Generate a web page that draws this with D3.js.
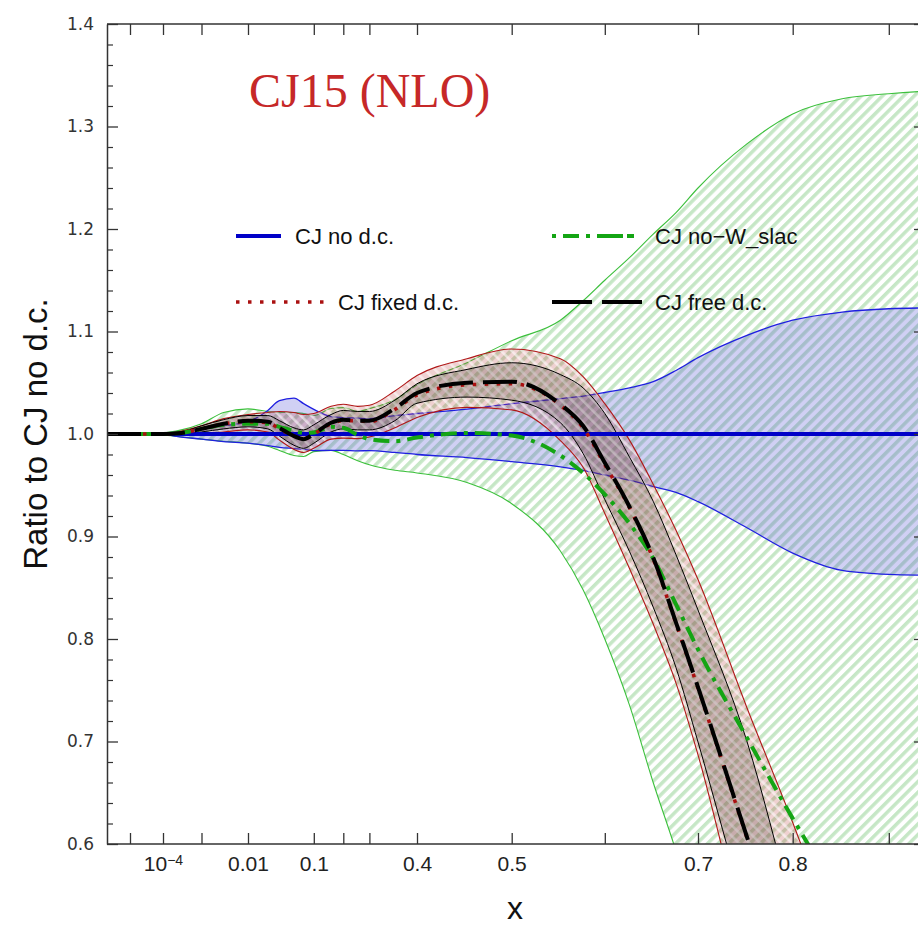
<!DOCTYPE html>
<html>
<head>
<meta charset="utf-8">
<script src="https://cdn.jsdelivr.net/npm/d3@7"></script>
<style>
  body { margin: 0; background: #fff; }
  svg { display: block; }
</style>
</head>
<body>
<div id="chart"></div>
<script>
// x grid of the curves
var xs = [2e-6, 1e-5, 3e-5, 1e-4, 3e-4, 1e-3, 3e-3, 0.01, 0.02, 0.03, 0.05, 0.07, 0.1, 0.15, 0.2, 0.25, 0.3, 0.35,
          0.4, 0.45, 0.5, 0.55, 0.575, 0.6, 0.625, 0.65, 0.675, 0.7, 0.75, 0.8, 0.85, 0.9, 0.95, 1.0];

// CJ no d.c. (reference) and its band
var noDc   = xs.map(function() { return 1.0; });
var noDcHi = [1.000, 1.000, 1.000, 1.001, 1.002, 1.005, 1.008, 1.012, 1.023, 1.0325, 1.035, 1.0296, 1.024, 1.017, 1.016, 1.0155, 1.015,
              1.018, 1.020, 1.0243, 1.0296, 1.0345, 1.037, 1.0405, 1.045, 1.051, 1.062, 1.0745, 1.0963, 1.111, 1.119, 1.1222, 1.1232, 1.1235];
var noDcLo = [1.000, 1.000, 0.9997, 0.9993, 0.997, 0.995, 0.9925, 0.991, 0.9887, 0.987, 0.9858, 0.985, 0.9838, 0.984, 0.984, 0.9835, 0.9838,
              0.982, 0.980, 0.977, 0.973, 0.968, 0.9645, 0.960, 0.955, 0.9487, 0.943, 0.934, 0.9085, 0.8838, 0.8669, 0.863, 0.862, 0.8615];

// CJ no-W_slac
var noW   = [1.0, 1.0, 1.0, 1.0, 1.001, 1.005, 1.009, 1.010, 1.010, 1.007, 1.003, 1.001, 1.0015, 1.007, 1.006, 0.999, 0.995,
             0.993, 0.9965, 1.001, 0.9985, 0.979, 0.962, 0.941, 0.9127, 0.8786, 0.8337, 0.7899, 0.7037, 0.625, 0.545, 0.47, 0.40, 0.35];
var noWHi = [1.000, 1.000, 1.0005, 1.001, 1.004, 1.010, 1.021, 1.0245, 1.022, 1.021, 1.021, 1.020, 1.018, 1.0248, 1.0257, 1.022, 1.0248,
             1.0335, 1.048, 1.0696, 1.091, 1.111, 1.130, 1.150, 1.172, 1.195, 1.216, 1.240, 1.283, 1.3123, 1.327, 1.332, 1.335, 1.336];
var noWLo = [1.000, 1.000, 0.9995, 0.999, 0.997, 0.995, 0.993, 0.991, 0.988, 0.984, 0.979, 0.978, 0.9828, 0.984, 0.980, 0.974, 0.970,
             0.9646, 0.962, 0.9526, 0.932, 0.8858, 0.848, 0.800, 0.7355, 0.660, 0.593, 0.520, 0.38, 0.25, 0.15, 0.10, 0.10, 0.10];

// CJ fixed d.c.
var fixedDc = [1.0, 1.0, 1.0, 1.0, 1.001, 1.005, 1.010, 1.012, 1.011, 1.005, 0.998, 0.995, 1.000, 1.010, 1.013, 1.013, 1.012,
               1.024, 1.038, 1.048, 1.049, 1.028, 1.006, 0.970, 0.928, 0.878, 0.815, 0.752, 0.606, 0.47, 0.33, 0.20, 0.10, 0.05];
var fixedHi = [1.0, 1.0, 1.0, 1.0005, 1.003, 1.008, 1.015, 1.019, 1.021, 1.022, 1.021, 1.019, 1.020, 1.027, 1.029, 1.027, 1.028,
               1.042, 1.057, 1.0735, 1.083, 1.0735, 1.056, 1.0296, 0.994, 0.951, 0.906, 0.858, 0.733, 0.621, 0.49, 0.36, 0.25, 0.15];
var fixedLo = [1.0, 1.0, 1.0, 0.9995, 0.999, 1.000, 1.002, 1.004, 1.002, 0.994, 0.985, 0.982, 0.986, 0.995, 0.996, 0.9955, 0.997,
               1.006, 1.016, 1.026, 1.0235, 0.9936, 0.9675, 0.9225, 0.8687, 0.8146, 0.757, 0.687, 0.50, 0.35, 0.20, 0.10, 0.05, 0.0];

// CJ free d.c.
var freeDc = [1.0, 1.0, 1.0, 1.0, 1.001, 1.005, 1.010, 1.013, 1.012, 1.006, 0.998, 0.995, 1.000, 1.011, 1.014, 1.013, 1.013,
              1.025, 1.040, 1.050, 1.051, 1.029, 1.008, 0.972, 0.929, 0.8795, 0.816, 0.753, 0.607, 0.47, 0.33, 0.20, 0.10, 0.05];
var freeHi = [1.0, 1.0, 1.0, 1.0003, 1.002, 1.008, 1.014, 1.018, 1.018, 1.013, 1.006, 1.004, 1.009, 1.019, 1.023, 1.022, 1.022,
              1.033, 1.049, 1.063, 1.0695, 1.058, 1.045, 1.020, 0.9775, 0.9344, 0.8822, 0.8283, 0.7002, 0.538, 0.37, 0.20, 0.10, 0.05];
var freeLo = [1.0, 1.0, 1.0, 0.9997, 1.000, 1.002, 1.005, 1.007, 1.005, 0.998, 0.989, 0.986, 0.991, 1.002, 1.005, 1.004, 1.004,
              1.013, 1.030, 1.036, 1.033, 1.011, 0.981, 0.936, 0.8854, 0.8311, 0.772, 0.6995, 0.5305, 0.39, 0.20, 0.10, 0.05, 0.0];

// axes
var xTicks = [1e-5, 1e-4, 1e-3, 0.01, 0.1, 0.2, 0.3, 0.4, 0.5, 0.6, 0.7, 0.8, 0.9];
var xTickLabels = ["", "10^-4", "", "0.01", "0.1", "", "", "0.4", "0.5", "", "0.7", "0.8", ""];
var yTicks = [0.6, 0.7, 0.8, 0.9, 1.0, 1.1, 1.2, 1.3, 1.4];
var yMinor = d3.range(0.62, 1.4, 0.02).filter(function(v) { return Math.abs(v * 10 - Math.round(v * 10)) > 0.01; });
var legendLabels = ["CJ no d.c.", "CJ no\u2212W_slac", "CJ fixed d.c.", "CJ free d.c."];

// layout
var W = 918, H = 928;
var pLeft = 107, pTop = 24, pRight = 925, pBottom = 844;
// the x axis is stretched piece by piece (log at small x, near-linear at large x)
var xBreaks = [2e-6, 1e-5, 1e-4, 1e-3, 0.01, 0.1, 0.2, 0.3, 0.4, 0.5, 0.6, 0.7, 0.8, 0.9, 1.0];
var xPix    = [107, 130, 163, 201.5, 248, 313.8, 343.3, 369.4, 417, 511.7, 604.8, 698, 792.7, 888.8, 984];

var xl = d3.scaleLinear().domain(xBreaks.map(Math.log10)).range(xPix);
function x(v) { return xl(Math.log10(v)); }
var y = d3.scaleLinear().domain([0.6, 1.4]).range([pBottom, pTop]);

var svg = d3.select("#chart").append("svg")
    .attr("width", W).attr("height", H)
    .style("font-family", "'Liberation Sans', Arial, sans-serif");

var defs = svg.append("defs");
defs.append("clipPath").attr("id", "plotClip")
    .append("rect").attr("x", pLeft).attr("y", pTop).attr("width", pRight - pLeft).attr("height", pBottom - pTop);

// green hatch "/" for the no-W_slac band
var gp = defs.append("pattern").attr("id", "greenHatch")
    .attr("patternUnits", "userSpaceOnUse").attr("width", 7.5).attr("height", 7.5)
    .attr("patternTransform", "rotate(45)");
gp.append("rect").attr("x", 0).attr("y", 0).attr("width", 3.5).attr("height", 7.5).attr("fill", "#c6e7c6");

// white hatch "\" inside the fixed d.c. band
var wp = defs.append("pattern").attr("id", "whiteHatch")
    .attr("patternUnits", "userSpaceOnUse").attr("width", 7.5).attr("height", 7.5)
    .attr("patternTransform", "rotate(-45)");
wp.append("rect").attr("x", 0).attr("y", 0).attr("width", 2.5).attr("height", 7.5).attr("fill", "#fff").attr("fill-opacity", 0.55);

var idx = d3.range(xs.length);
function band(lo, hi) {
    return d3.area()
        .x(function(i) { return x(xs[i]); })
        .y0(function(i) { return y(lo[i]); })
        .y1(function(i) { return y(hi[i]); })
        .curve(d3.curveMonotoneX)(idx);
}
function line(vals) {
    return d3.line()
        .x(function(i) { return x(xs[i]); })
        .y(function(i) { return y(vals[i]); })
        .curve(d3.curveMonotoneX)(idx);
}

var plot = svg.append("g").attr("clip-path", "url(#plotClip)");

// bands
plot.append("path").attr("d", band(noWLo, noWHi)).attr("fill", "url(#greenHatch)");
plot.append("path").attr("d", line(noWHi)).attr("fill", "none").attr("stroke", "#3cc03c").attr("stroke-width", 1.1);
plot.append("path").attr("d", line(noWLo)).attr("fill", "none").attr("stroke", "#3cc03c").attr("stroke-width", 1.1);

plot.append("path").attr("d", band(noDcLo, noDcHi)).attr("fill", "#5050d8").attr("fill-opacity", 0.27);
plot.append("path").attr("d", line(noDcHi)).attr("fill", "none").attr("stroke", "#1f1fe0").attr("stroke-width", 1.3);
plot.append("path").attr("d", line(noDcLo)).attr("fill", "none").attr("stroke", "#1f1fe0").attr("stroke-width", 1.3);

plot.append("path").attr("d", band(fixedLo, fixedHi)).attr("fill", "#c04848").attr("fill-opacity", 0.25);
plot.append("path").attr("d", band(fixedLo, fixedHi)).attr("fill", "url(#whiteHatch)");
plot.append("path").attr("d", line(fixedHi)).attr("fill", "none").attr("stroke", "#b01818").attr("stroke-width", 1.1);
plot.append("path").attr("d", line(fixedLo)).attr("fill", "none").attr("stroke", "#b01818").attr("stroke-width", 1.1);

plot.append("path").attr("d", band(freeLo, freeHi)).attr("fill", "#3a2a2a").attr("fill-opacity", 0.22);
plot.append("path").attr("d", line(freeHi)).attr("fill", "none").attr("stroke", "#000").attr("stroke-width", 1);
plot.append("path").attr("d", line(freeLo)).attr("fill", "none").attr("stroke", "#000").attr("stroke-width", 1);

// central curves
plot.append("path").attr("d", line(noDc)).attr("fill", "none").attr("stroke", "#0000c8").attr("stroke-width", 4);
plot.append("path").attr("d", line(noW)).attr("fill", "none").attr("stroke", "#14a514").attr("stroke-width", 4)
    .attr("stroke-dasharray", "16,7,4,7");
plot.append("path").attr("d", line(fixedDc)).attr("fill", "none").attr("stroke", "#aa1010").attr("stroke-width", 3.5)
    .attr("stroke-dasharray", "3.5,8.5");
plot.append("path").attr("d", line(freeDc)).attr("fill", "none").attr("stroke", "#000").attr("stroke-width", 4)
    .attr("stroke-dasharray", "34,10");

// axes
function styleAxis(g) {
    g.selectAll(".domain").attr("stroke", "#333").attr("stroke-width", 1.5);
    g.selectAll(".tick line").attr("stroke", "#333").attr("stroke-width", 1.3);
}
var xTickLog = xTicks.map(Math.log10);

var gBottom = svg.append("g").attr("transform", "translate(0," + pBottom + ")")
    .call(d3.axisBottom(xl).tickValues(xTickLog).tickSize(-11).tickSizeOuter(0).tickPadding(12)
        .tickFormat(function(d, i) { return xTickLabels[i]; }));
gBottom.select(".domain").attr("d", "M" + pLeft + ",0H" + W);
styleAxis(gBottom);
gBottom.selectAll(".tick text")
    .attr("font-family", "'Liberation Sans Narrow', 'Arial Narrow', 'Liberation Sans', Arial, sans-serif")
    .attr("font-size", 21).attr("fill", "#222")
    .each(function(d, i) {
        var lab = xTickLabels[i];
        if (lab.indexOf("^") >= 0) {
            var parts = lab.split("^");
            var t = d3.select(this).text(null);
            t.append("tspan").text(parts[0]);
            t.append("tspan").attr("dy", "-0.45em").attr("font-size", 14).text(parts[1].replace("-", "\u2212"));
        }
    });

var gTop = svg.append("g").attr("transform", "translate(0," + pTop + ")")
    .call(d3.axisTop(xl).tickValues(xTickLog).tickSize(-11).tickSizeOuter(0).tickFormat(""));
gTop.select(".domain").attr("d", "M" + pLeft + ",0H" + W);
styleAxis(gTop);

var gLeft = svg.append("g").attr("transform", "translate(" + pLeft + ",0)")
    .call(d3.axisLeft(y).tickValues(yTicks).tickSize(-11).tickSizeOuter(0).tickPadding(13)
        .tickFormat(d3.format(".1f")));
styleAxis(gLeft);
gLeft.selectAll(".tick text").attr("font-size", 17).attr("fill", "#333")
    .attr("font-family", "'DejaVu Sans', Verdana, sans-serif");
svg.append("g").attr("transform", "translate(" + pLeft + ",0)")
    .call(d3.axisLeft(y).tickValues(yMinor).tickSize(-6).tickFormat(""))
    .call(function(g) { g.select(".domain").remove(); g.selectAll(".tick line").attr("stroke", "#333").attr("stroke-width", 1.2); });

var gRight = svg.append("g").attr("transform", "translate(" + pRight + ",0)")
    .call(d3.axisRight(y).tickValues(yTicks).tickSize(-11).tickSizeOuter(0).tickFormat(""));
styleAxis(gRight);

// axis titles
svg.append("text").attr("transform", "translate(47," + y(1.0) + ") rotate(-90)")
    .attr("text-anchor", "middle").attr("font-size", 33).attr("fill", "#111")
    .text("Ratio to CJ no d.c.");
svg.append("text").attr("x", 515).attr("y", 919).attr("text-anchor", "middle")
    .attr("font-size", 32).attr("fill", "#111").text("x");

// title
svg.append("text").attr("x", 249).attr("y", 107)
    .attr("font-family", "'Liberation Serif', 'Times New Roman', serif")
    .attr("font-size", 48).attr("fill", "#c62828").text("CJ15 (NLO)");

// legend
var legendItems = [
    {x1: 236, x2: 281, y: 236, tx: 295, color: "#0000c8", w: 4, dash: null},
    {x1: 552, x2: 644, y: 236, tx: 655, color: "#14a514", w: 4, dash: "4,7,16,7,4,7,26"},
    {x1: 236, x2: 326, y: 302, tx: 338, color: "#aa1010", w: 3.5, dash: "3.5,8.5"},
    {x1: 552, x2: 644, y: 302, tx: 655, color: "#000", w: 4, dash: "40,10"}
];
var leg = svg.append("g");
legendItems.forEach(function(d, i) {
    leg.append("line").attr("x1", d.x1).attr("x2", d.x2).attr("y1", d.y).attr("y2", d.y)
        .attr("stroke", d.color).attr("stroke-width", d.w).attr("stroke-dasharray", d.dash);
    leg.append("text").attr("x", d.tx).attr("y", d.y + 8).attr("font-size", 22).attr("fill", "#111")
        .text(legendLabels[i]);
});
</script>
</body>
</html>
